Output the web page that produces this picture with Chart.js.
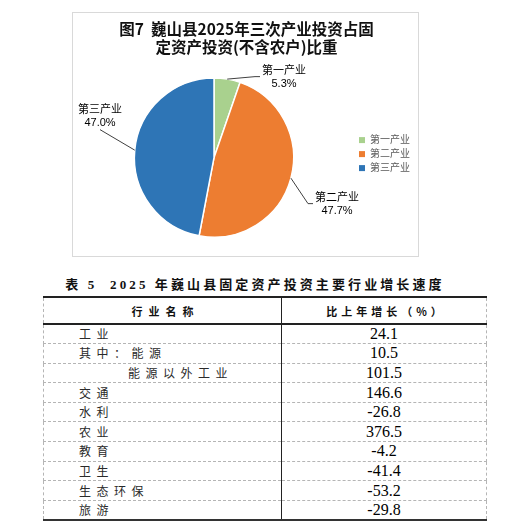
<!DOCTYPE html>
<html lang="zh-CN">
<head>
<meta charset="utf-8">
<title>巍山县2025年三次产业投资占固定资产投资比重</title>
<script src="https://cdn.jsdelivr.net/npm/chart.js@4.4.1/dist/chart.umd.min.js"></script>
<style>
  html, body { margin: 0; padding: 0; background: #fff; }
  body { width: 529px; height: 527px; position: relative; overflow: hidden; }
  .chart-box {
    position: absolute; left: 72px; top: 12px; width: 347px; height: 245px;
    box-sizing: border-box; border: 1px solid #d9d9d9;
  }
  .table-title {
    position: absolute; left: 40px; top: 274px; width: 430px; text-align: center;
    font: bold 13px "Liberation Serif", "Noto Sans CJK SC", serif;
    letter-spacing: 3.1px; color: #111; white-space: pre;
  }
  table.growth {
    position: absolute; left: 43px; top: 296px; width: 443px;
    border-collapse: collapse; table-layout: fixed;
  }
  table.growth td, table.growth th { padding: 0; line-height: 1; white-space: nowrap; }
  table.growth thead tr { height: 27px; }
  table.growth thead th {
    font: bold 11px "Noto Sans CJK SC", sans-serif; color: #111;
    border-top: 2px solid #222; border-bottom: 2px solid #222;
  }
  table.growth tbody tr { height: 19.6px; }
  table.growth tbody td { border-bottom: 1px dashed #b5b5b5; }
  table.growth tbody tr:last-child td { border-bottom: 2px solid #333; }
  .col-name { border-left: 1px dashed #b5b5b5; border-right: 1px solid #222; }
  .col-val { border-right: 1px dashed #b5b5b5; text-align: center; }
  td.col-name { font: 12px "Noto Sans CJK SC", sans-serif; color: #2a2a2a; letter-spacing: 5.5px; text-align: left; }
  td.col-val { font: 16px "Liberation Serif", serif; color: #000; }
</style>
</head>
<body>
<div class="chart-box"><canvas id="pie"></canvas></div>

<div class="table-title">表 5  2025 年巍山县固定资产投资主要行业增长速度</div>
<table class="growth">
  <colgroup><col style="width:238px"><col style="width:205px"></colgroup>
  <thead>
    <tr>
      <th class="col-name" style="letter-spacing:6px;padding-left:6px">行业名称</th>
      <th class="col-val" style="letter-spacing:4px;padding-left:4px">比上年增长（%）</th>
    </tr>
  </thead>
  <tbody id="rows"></tbody>
</table>

<script>
// 图7 三次产业投资占比
var sectors = ['第一产业', '第二产业', '第三产业'];
var shares = [5.3, 47.7, 47.0];
var sectorColors = ['#A9D18E', '#ED7D31', '#2E75B6'];
// label centre offsets from the pie centre, px
var labelOffsets = [[70, -81], [123, 46], [-114, -42]];

// 表5 主要行业增长速度
var industries = ['工业', '其中：能源', '能源以外工业', '交通', '水利', '农业', '教育', '卫生', '生态环保', '旅游'];
var indentLevels = [0, 0, 1, 0, 0, 0, 0, 0, 0, 0];
var growthRates = [24.1, 10.5, 101.5, 146.6, -26.8, 376.5, -4.2, -41.4, -53.2, -29.8];

var SANS = '"Liberation Sans", "Noto Sans CJK SC", sans-serif';

var sliceLabels = {
  id: 'sliceLabels',
  afterDatasetsDraw: function(chart) {
    var ctx = chart.ctx;
    var meta = chart.getDatasetMeta(0);
    ctx.save();
    ctx.font = '11px ' + SANS;
    ctx.textAlign = 'center';
    ctx.textBaseline = 'middle';
    meta.data.forEach(function(arc, i) {
      var p = arc.getProps(['x', 'y', 'startAngle', 'endAngle', 'outerRadius'], true);
      var mid = (p.startAngle + p.endAngle) / 2;
      var ex = p.x + Math.cos(mid) * p.outerRadius;
      var ey = p.y + Math.sin(mid) * p.outerRadius;
      var cx = p.x + labelOffsets[i][0];
      var cy = p.y + labelOffsets[i][1];
      var name = sectors[i];
      var pct = shares[i].toFixed(1) + '%';
      var w = Math.max(ctx.measureText(name).width, ctx.measureText(pct).width);

      ctx.strokeStyle = '#404040';
      ctx.lineWidth = 1;
      ctx.beginPath();
      ctx.moveTo(ex, ey);
      if (labelOffsets[i][0] > 0) {
        var lx = cx - w / 2 - 2;
        ctx.lineTo(lx - 5, cy);
        ctx.lineTo(lx, cy);
      } else {
        ctx.lineTo(cx, cy + 14);
      }
      ctx.stroke();

      ctx.fillStyle = '#000';
      ctx.fillText(name, cx, cy - 6);
      ctx.fillText(pct, cx, cy + 7);
    });
    ctx.restore();
  }
};

function legendLabels(chart) {
  var items = Chart.overrides.pie.plugins.legend.labels.generateLabels(chart);
  items.forEach(function(item) {
    item.lineWidth = 0;
    item.strokeStyle = item.fillStyle;
  });
  return items;
}

new Chart(document.getElementById('pie'), {
  type: 'pie',
  data: {
    labels: sectors,
    datasets: [{
      data: shares,
      backgroundColor: sectorColors,
      borderColor: '#fff',
      borderWidth: 1.5
    }]
  },
  options: {
    responsive: true,
    maintainAspectRatio: false,
    animation: false,
    layout: { padding: { left: 0, right: -2, top: 0, bottom: 18 } },
    plugins: {
      title: {
        display: true,
        text: ['图7  巍山县2025年三次产业投资占固', '定资产投资(不含农户)比重'],
        color: '#111',
        font: { family: '"Noto Sans CJK SC", sans-serif', size: 15.5, weight: 'bold', lineHeight: 1.17 },
        padding: { top: 7, bottom: 21 }
      },
      legend: {
        position: 'right',
        title: { display: true, text: ' ', font: { size: 1 }, padding: { top: 0, bottom: 56 } },
        labels: {
          boxWidth: 6,
          boxHeight: 6,
          padding: 4,
          color: '#595959',
          font: { family: SANS, size: 10 },
          generateLabels: legendLabels
        }
      },
      tooltip: { enabled: false }
    }
  },
  plugins: [sliceLabels]
});

var tbody = document.getElementById('rows');
industries.forEach(function(name, i) {
  var tr = document.createElement('tr');
  var tdName = document.createElement('td');
  tdName.className = 'col-name';
  tdName.style.paddingLeft = (indentLevels[i] ? 84 : 35) + 'px';
  tdName.textContent = name;
  var tdVal = document.createElement('td');
  tdVal.className = 'col-val';
  tdVal.textContent = growthRates[i].toFixed(1);
  tr.appendChild(tdName);
  tr.appendChild(tdVal);
  tbody.appendChild(tr);
});
</script>
</body>
</html>
